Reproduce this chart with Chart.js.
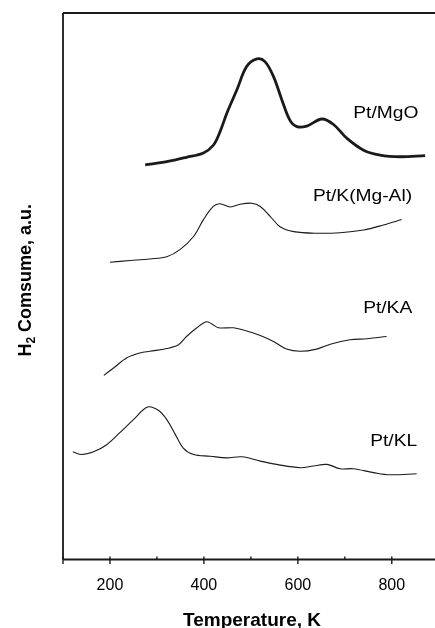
<!DOCTYPE html>
<html>
<head>
<meta charset="utf-8">
<script src="https://cdn.jsdelivr.net/npm/chart.js@4.4.1/dist/chart.umd.min.js"></script>
<style>
  html, body { margin: 0; padding: 0; background: #fff; }
  #wrap { width: 435px; height: 628px; }
</style>
</head>
<body>
<div id="wrap"><canvas id="tpr-chart" width="435" height="628"></canvas></div>
<script>
// H2-TPR profiles (temperature in K, signal in a.u., curves stacked)
const mgoTemp   = [275, 321, 363, 399, 420, 434, 449, 470, 491, 513, 530, 548, 566, 583, 598, 619, 651, 676, 704, 740, 775, 818, 871];
const mgoSignal = [72.2, 72.8, 73.6, 74.4, 75.8, 78.2, 81.7, 85.9, 90.2, 91.6, 91.1, 88.4, 84.1, 80.4, 79.2, 79.3, 80.6, 79.6, 77.1, 74.9, 74.0, 73.7, 73.9];

const kmgalTemp   = [200, 243, 285, 321, 349, 378, 399, 420, 434, 456, 477, 502, 520, 541, 562, 591, 640, 690, 740, 782, 821];
const kmgalSignal = [54.4, 54.7, 55.0, 55.4, 56.7, 59.1, 62.2, 64.6, 65.1, 64.5, 65.0, 65.2, 64.6, 62.8, 60.9, 60.0, 59.7, 59.8, 60.3, 61.2, 62.2];

const kaTemp   = [187, 207, 236, 264, 285, 321, 346, 363, 385, 405, 417, 431, 463, 484, 520, 548, 576, 605, 640, 669, 711, 747, 789];
const kaSignal = [33.7, 35.0, 36.9, 37.8, 38.1, 38.6, 39.3, 40.8, 42.4, 43.5, 43.1, 42.4, 42.4, 42.0, 41.0, 39.9, 38.5, 38.1, 38.5, 39.4, 40.2, 40.4, 40.8];

const klTemp   = [121, 140, 165, 193, 221, 250, 280, 303, 321, 339, 356, 378, 413, 449, 481, 520, 555, 605, 633, 662, 690, 718, 761, 796, 853];
const klSignal = [19.7, 19.2, 19.7, 21.0, 23.2, 25.6, 27.9, 27.3, 25.6, 22.9, 20.4, 19.2, 18.9, 18.6, 18.8, 18.0, 17.4, 16.8, 17.1, 17.4, 16.6, 16.6, 15.9, 15.5, 15.7];

const seriesNames = ['Pt/MgO', 'Pt/K(Mg-Al)', 'Pt/KA', 'Pt/KL'];
const tempLabels = [200, 400, 600, 800];

const INK = '#1a1a1a';

function toPoints(xs, ys) {
  return xs.map((x, i) => ({ x, y: ys[i] }));
}

// axis frame, tick marks, titles and curve names
const framePlugin = {
  id: 'frame',
  afterDraw(chart) {
    const { ctx, chartArea: a, scales } = chart;
    const xs = scales.x, ys = scales.y;
    ctx.save();
    ctx.strokeStyle = INK;
    ctx.lineWidth = 1.8;
    ctx.beginPath();
    ctx.moveTo(a.left, a.top); ctx.lineTo(a.right, a.top);
    ctx.moveTo(a.left, a.top); ctx.lineTo(a.left, a.bottom);
    ctx.moveTo(a.left, a.bottom); ctx.lineTo(a.right, a.bottom);
    ctx.stroke();

    ctx.lineWidth = 1.4;
    for (let t = 100; t <= xs.max; t += 100) {
      const px = xs.getPixelForValue(t);
      const major = t % 200 === 0 || t === 100;
      ctx.beginPath();
      ctx.moveTo(px, a.bottom - 3);
      ctx.lineTo(px, major ? a.bottom + 4.5 : a.bottom);
      ctx.stroke();
    }

    ctx.fillStyle = '#000';
    ctx.textBaseline = 'alphabetic';

    // x title
    ctx.font = 'bold 19px "Liberation Sans", Arial, sans-serif';
    ctx.textAlign = 'center';
    ctx.fillText('Temperature, K', (a.left + a.right) / 2 + 3, 626);

    // y title with subscript
    ctx.save();
    ctx.translate(30.5, (a.top + a.bottom) / 2 - 6);
    ctx.rotate(-Math.PI / 2);
    ctx.textAlign = 'left';
    const big = 'bold 18px "Liberation Sans", Arial, sans-serif';
    const small = 'bold 12px "Liberation Sans", Arial, sans-serif';
    ctx.font = big; const wH = ctx.measureText('H').width;
    const rest = ' Comsume, a.u.'; const wR = ctx.measureText(rest).width;
    ctx.font = small; const w2 = ctx.measureText('2').width;
    let x0 = -(wH + w2 + wR) / 2;
    ctx.font = big; ctx.fillText('H', x0, 0); x0 += wH;
    ctx.font = small; ctx.fillText('2', x0, 4); x0 += w2;
    ctx.font = big; ctx.fillText(rest, x0, 0);
    ctx.restore();

    // curve names, anchored in data units
    const anchors = [[718, 80.7], [632, 65.6], [739, 45.1], [754, 20.8]];
    ctx.font = '16px "Liberation Sans", Arial, sans-serif';
    ctx.textAlign = 'left';
    seriesNames.forEach((name, i) => {
      ctx.save();
      ctx.translate(xs.getPixelForValue(anchors[i][0]), ys.getPixelForValue(anchors[i][1]));
      ctx.scale(1.2, 1);
      ctx.fillText(name, 0, 0);
      ctx.restore();
    });
    ctx.restore();
  }
};

const series = [
  [mgoTemp, mgoSignal, 2.8],
  [kmgalTemp, kmgalSignal, 1.1],
  [kaTemp, kaSignal, 1.1],
  [klTemp, klSignal, 1.1],
];

new Chart(document.getElementById('tpr-chart'), {
  type: 'scatter',
  data: {
    datasets: series.map(([xs, ys, w], i) => ({
      label: seriesNames[i],
      data: toPoints(xs, ys),
      showLine: true,
      borderColor: INK,
      borderWidth: w,
      pointRadius: 0,
      tension: 0.35,
      fill: false,
    })),
  },
  options: {
    responsive: false,
    animation: false,
    devicePixelRatio: 1,
    layout: { padding: { top: 13, right: 0, left: 0, bottom: 0 } },
    plugins: { legend: { display: false }, tooltip: { enabled: false } },
    scales: {
      x: {
        type: 'linear',
        min: 100,
        max: 892,
        grid: { display: false, drawTicks: false },
        border: { display: false },
        afterFit: s => { s.height = 68.5; },
        afterBuildTicks: s => { s.ticks = tempLabels.map(v => ({ value: v })); },
        ticks: {
          autoSkip: false,
          maxRotation: 0,
          padding: 16,
          color: '#000',
          font: { family: '"Liberation Sans", Arial, sans-serif', size: 16 },
          callback: v => String(v),
        },
      },
      y: {
        min: 0,
        max: 100,
        grid: { display: false, drawTicks: false },
        border: { display: false },
        ticks: { display: false },
        afterFit: s => { s.width = 63; },
      },
    },
  },
  plugins: [framePlugin],
});
</script>
</body>
</html>
